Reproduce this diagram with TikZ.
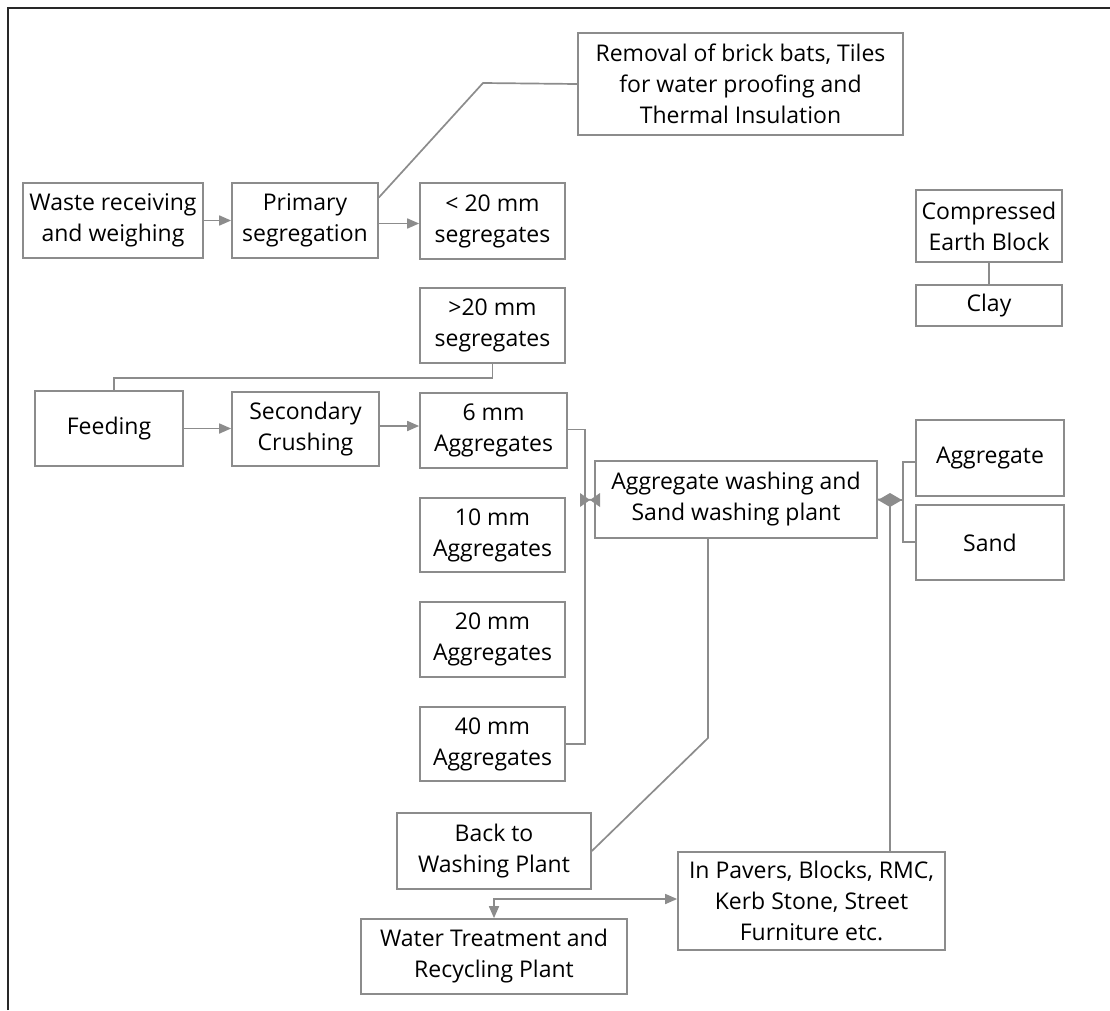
\documentclass[tikz,border=0pt]{standalone}
\usepackage{fontspec}
\setmainfont{Open Sans}
\usetikzlibrary{arrows.meta}
\definecolor{boxgray}{RGB}{140,140,140}
\definecolor{framec}{RGB}{40,40,40}
\tikzset{
  box/.style={draw=boxgray, line width=1.7pt, rectangle, align=center, inner sep=0pt,
    font=\fontsize{23}{31}\selectfont, text=black},
  conn/.style={draw=boxgray, line width=1.7pt},
  arr/.style={conn, -{Triangle[length=12pt,width=10pt]}},
  darr/.style={conn, {Triangle[length=12pt,width=10pt]}-{Triangle[length=12pt,width=10pt]}},
}
\newcommand{\bx}[6]{% name, x1, y1, x2, y2, text
  \node[box, minimum width={(#4-#2)*1pt}, minimum height={(#5-#3)*1pt}] (#1) at ({(#2+#4)/2},{(#3+#5)/2}) {#6};}
\begin{document}
\begin{tikzpicture}[x=1pt,y=-1pt]
\useasboundingbox (0,0) rectangle (1110,1010);
\draw[framec, line width=2pt] (8,1010) -- (8,8) -- (1110,8);
% boxes
\bx{rem}{578}{33}{903}{135}{Removal of brick bats, Tiles\\for water proofing and\\Thermal Insulation}
\bx{waste}{23}{183}{203}{258}{Waste receiving\\and weighing}
\bx{prim}{232}{183}{378}{258}{Primary\\segregation}
\bx{lt}{420}{183}{565}{259}{< 20 mm\\segregates}
\bx{ceb}{916}{190}{1062}{262}{Compressed\\Earth Block}
\bx{clay}{916}{285}{1062}{326}{Clay}
\bx{gt}{420}{288}{565}{363}{>20 mm\\segregates}
\bx{feed}{35}{391}{183}{466}{Feeding}
\bx{sec}{232}{392}{379}{466}{Secondary\\Crushing}
\bx{a6}{420}{393}{567}{468}{6 mm\\Aggregates}
\bx{a10}{420}{498}{565}{572}{10 mm\\Aggregates}
\bx{a20}{420}{602}{565}{677}{20 mm\\Aggregates}
\bx{a40}{420}{707}{565}{781}{40 mm\\Aggregates}
\bx{wash}{595}{461}{877}{538}{Aggregate washing and\\Sand washing plant}
\bx{agg}{916}{420}{1064}{496}{Aggregate}
\bx{sand}{916}{505}{1064}{580}{Sand}
\bx{back}{397}{813}{591}{889}{Back to\\Washing Plant}
\bx{pav}{678}{852}{945}{950}{In Pavers, Blocks, RMC,\\Kerb Stone, Street\\Furniture etc.}
\bx{water}{361}{919}{627}{994}{Water Treatment and\\Recycling Plant}
% helper coordinates
\coordinate (bl) at (585,500);
\coordinate (br) at (903,500);
\coordinate (dv) at (890,500);
\coordinate (wb) at (708,738);
\coordinate (rk) at (483,83);
% connectors
\draw[arr] (waste.east) -- (prim.east -| prim.west);
\draw[arr] ([yshift=-3pt]prim.east) -- ([yshift=-3pt]prim.east -| lt.west);
\draw[conn] ([yshift=23pt]prim.east) -- (rk) -- (rem.west);
\draw[conn] (ceb.south) -- (clay.north);
\draw[conn] (gt.south) -- ++(0,14) -| ([xshift=5pt]feed.north);
\draw[arr] (feed.east) -- (feed.east -| sec.west);
\draw[arr] ([yshift=3pt]sec.east) -- ([yshift=3pt]sec.east -| a6.west);
\draw[conn] ([yshift=1pt]a6.east) -- ([yshift=1pt]a6.east -| bl) -- (a40.east -| bl) -- (a40.east);
\draw[conn] (bl) -- (wash.west);
\fill[boxgray] (580,493) -- (590,500) -- (580,507) -- cycle;
\fill[boxgray] (600,493) -- (590,500) -- (600,507) -- cycle;
\draw[conn] (agg.west |- 0,462) -- (br |- 0,462) -- (br |- 0,542) -- (sand.west |- 0,542);
\draw[conn] (wash.east) -- (br);
\fill[boxgray] (878,500) -- (890,493) -- (902,500) -- (890,507) -- cycle;
\draw[conn] (dv) -- (dv |- pav.north);
\draw[conn] (wash.south -| wb) -- (wb) -- (back.east);
\draw[darr] (water.north) |- ([yshift=2pt]pav.west);
\end{tikzpicture}
\end{document}
